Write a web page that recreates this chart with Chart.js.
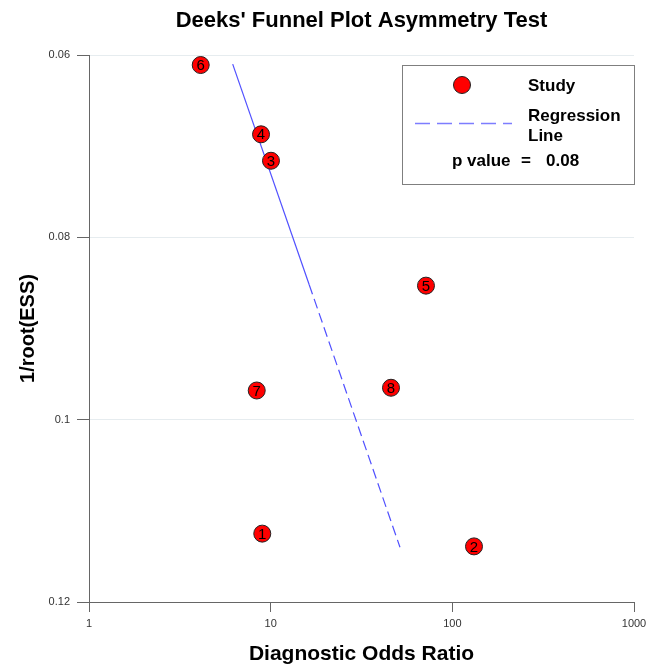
<!DOCTYPE html>
<html>
<head>
<meta charset="utf-8">
<script src="https://cdn.jsdelivr.net/npm/chart.js@4.4.1/dist/chart.umd.min.js"></script>
<style>
  html, body { margin: 0; padding: 0; background: #ffffff; }
  #wrap { width: 657px; height: 665px; }
</style>
</head>
<body>
<div id="wrap"><canvas id="c" width="657" height="665"></canvas></div>
<script>
// ---- data ----
const studyIds = ['1', '2', '3', '4', '5', '6', '7', '8'];
const diagnosticOddsRatio = [8.99, 131.6, 10.04, 8.85, 71.6, 4.12, 8.38, 45.96];
const invRootESS = [0.1125, 0.1139, 0.0716, 0.0687, 0.0853, 0.0611, 0.0968, 0.0965];
const regressionX = [6.18, 16.3, 51.5];
const regressionY = [0.0610, 0.0852, 0.1140];
const xTicks = [1, 10, 100, 1000];
const yTicks = [0.06, 0.08, 0.1, 0.12];
const pValueText = '0.08';

const FONT = "'Liberation Sans', Arial, Helvetica, sans-serif";

const studyPoints = diagnosticOddsRatio.map((x, i) => ({ x: x, y: invRootESS[i] }));
const regPoints = regressionX.map((x, i) => ({ x: x, y: regressionY[i] }));

const labelPlugin = {
  id: 'studyLabels',
  afterDatasetsDraw(chart) {
    const meta = chart.getDatasetMeta(0);
    const ctx = chart.ctx;
    ctx.save();
    ctx.font = '15px ' + FONT;
    ctx.fillStyle = '#000000';
    ctx.textAlign = 'center';
    ctx.textBaseline = 'middle';
    meta.data.forEach((pt, i) => {
      ctx.fillText(studyIds[i], pt.x, pt.y + 1);
    });
    ctx.restore();
  }
};

const legendBoxPlugin = {
  id: 'legendBox',
  afterDraw(chart) {
    const ctx = chart.ctx;
    ctx.save();
    ctx.strokeStyle = '#7f7f7f';
    ctx.lineWidth = 1;
    ctx.fillStyle = '#ffffff';
    ctx.fillRect(402.5, 65.5, 232, 119);
    ctx.strokeRect(402.5, 65.5, 232, 119);
    ctx.beginPath();
    ctx.arc(462, 85, 8.5, 0, Math.PI * 2);
    ctx.fillStyle = '#ff0000';
    ctx.fill();
    ctx.strokeStyle = '#222222';
    ctx.stroke();
    ctx.beginPath();
    ctx.setLineDash([15, 7]);
    ctx.strokeStyle = '#7d7dff';
    ctx.lineWidth = 1.4;
    ctx.moveTo(415, 123.5);
    ctx.lineTo(512, 123.5);
    ctx.stroke();
    ctx.setLineDash([]);
    ctx.fillStyle = '#000000';
    ctx.font = 'bold 17px ' + FONT;
    ctx.textAlign = 'left';
    ctx.textBaseline = 'middle';
    ctx.fillText('Study', 528, 86);
    ctx.fillText('Regression', 528, 116);
    ctx.fillText('Line', 528, 136);
    ctx.fillText('p value', 452, 161);
    ctx.fillText('=', 521, 161);
    ctx.fillText(pValueText, 546, 161);
    ctx.restore();
  }
};

new Chart(document.getElementById('c'), {
  data: {
    datasets: [
      {
        type: 'scatter',
        label: 'Study',
        data: studyPoints,
        pointStyle: 'circle',
        pointRadius: 8.5,
        pointHoverRadius: 8.5,
        backgroundColor: '#ff0000',
        borderColor: '#222222',
        borderWidth: 1
      },
      {
        type: 'line',
        label: 'Regression Line',
        data: regPoints,
        borderColor: '#5050ff',
        borderWidth: 1.2,
        pointRadius: 0,
        fill: false,
        tension: 0,
        segment: {
          borderDash: ctx => ctx.p0DataIndex === 0 ? [] : [10, 5]
        }
      }
    ]
  },
  options: {
    responsive: false,
    animation: false,
    devicePixelRatio: 1,
    layout: { padding: { left: 0, right: 23, top: 0, bottom: 0 } },
    plugins: {
      legend: { display: false },
      tooltip: { enabled: false },
      title: {
        display: true,
        text: "Deeks' Funnel Plot Asymmetry Test",
        fullSize: false,
        color: '#000000',
        font: { family: FONT, size: 22, weight: 'bold', lineHeight: 1.2 },
        padding: { top: 8, bottom: 20.6 }
      }
    },
    scales: {
      x: {
        type: 'logarithmic',
        min: 1,
        max: 1000,
        afterBuildTicks: s => { s.ticks = xTicks.map(v => ({ value: v })); },
        afterFit: s => { s.height = 63; },
        ticks: {
          color: '#333333',
          font: { family: FONT, size: 11 },
          padding: 5,
          maxRotation: 0,
          autoSkip: false,
          callback: v => String(v)
        },
        grid: {
          drawOnChartArea: false,
          drawTicks: true,
          tickLength: 10,
          tickColor: '#666666',
          color: '#666666'
        },
        border: { display: true, color: '#666666', width: 1 },
        title: {
          display: true,
          text: 'Diagnostic Odds Ratio',
          color: '#000000',
          font: { family: FONT, size: 21, weight: 'bold', lineHeight: 1 },
          padding: { top: 0, bottom: 0 }
        }
      },
      y: {
        type: 'linear',
        reverse: true,
        min: 0.06,
        max: 0.12,
        afterBuildTicks: s => { s.ticks = yTicks.map(v => ({ value: v })); },
        afterFit: s => { s.width = 89; },
        ticks: {
          color: '#333333',
          font: { family: FONT, size: 11 },
          padding: 7,
          autoSkip: false,
          callback: v => String(Number(v.toFixed(2)))
        },
        grid: {
          drawOnChartArea: true,
          drawTicks: true,
          tickLength: 12,
          tickColor: '#666666',
          color: ctx => (ctx.tick && ctx.tick.value >= 0.12) ? 'rgba(0,0,0,0)' : '#e6ecef'
        },
        border: { display: true, color: '#666666', width: 1 },
        title: {
          display: true,
          text: '1/root(ESS)',
          color: '#000000',
          font: { family: FONT, size: 20, weight: 'bold', lineHeight: 1.2 },
          padding: { top: 16, bottom: 0 }
        }
      }
    }
  },
  plugins: [labelPlugin, legendBoxPlugin]
});
</script>
</body>
</html>
